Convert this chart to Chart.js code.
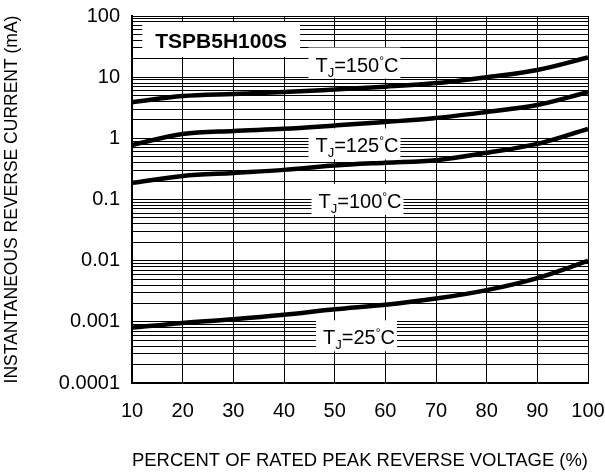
<!DOCTYPE html>
<html>
<head>
<meta charset="utf-8">
<script src="https://cdn.jsdelivr.net/npm/chart.js@4.4.0/dist/chart.umd.min.js"></script>
<style>
html, body { margin: 0; padding: 0; background: #fff; }
</style>
</head>
<body>
<canvas id="chart" width="605" height="473"></canvas>
<script>
// percent of rated peak reverse voltage
const voltage = [10, 20, 30, 40, 50, 60, 70, 80, 90, 100];
// reverse current (mA) for each junction temperature
const tj150 = [3.9, 4.9, 5.3, 5.7, 6.3, 7.0, 8.0, 10, 13.1, 21];
const tj125 = [0.78, 1.18, 1.32, 1.43, 1.62, 1.85, 2.15, 2.7, 3.5, 5.7];
const tj100 = [0.187, 0.243, 0.272, 0.305, 0.36, 0.40, 0.44, 0.58, 0.81, 1.43];
const tj25 = [0.0008, 0.00096, 0.0011, 0.0013, 0.0016, 0.0019, 0.0024, 0.0033, 0.0052, 0.0099];

const yTickLabels = ['0.0001', '0.001', '0.01', '0.1', '1', '10', '100'];
const partName = 'TSPB5H100S';
// temperature labels: text and where they sit (data units)
const tempLabels = [
    { temp: '150', x: 54.4, y: 16.1 },
    { temp: '125', x: 54.4, y: 0.766 },
    { temp: '100', x: 55.0, y: 0.0948 },
    { temp: '25', x: 54.8, y: 0.000558 }
];
const partLabelPos = { x: 27.6, y: 40.5 };

const FONT = 'Arial, "Liberation Sans", sans-serif';

const line = (data) => ({
    data: data,
    borderColor: '#000',
    borderWidth: 4.5,
    pointRadius: 0,
    fill: false,
    cubicInterpolationMode: 'monotone'
});

const noPad = (s) => {
    s.paddingTop = 0; s.paddingBottom = 0;
    s.paddingLeft = 0; s.paddingRight = 0;
};

// white boxes + text drawn over the grid
const labelPlugin = {
    id: 'labels',
    beforeDatasetsDraw(chart) {
        const ctx = chart.ctx;
        const xs = chart.scales.x, ys = chart.scales.y;
        ctx.save();

        // part number
        ctx.font = 'bold 21px ' + FONT;
        let w = ctx.measureText(partName).width;
        let cx = xs.getPixelForValue(partLabelPos.x);
        let cy = ys.getPixelForValue(partLabelPos.y);
        ctx.fillStyle = '#fff';
        ctx.fillRect(cx - w / 2 - 13, cy - 18, w + 26, 35);
        ctx.fillStyle = '#000';
        ctx.textBaseline = 'alphabetic';
        ctx.fillText(partName, cx - w / 2, cy + 7.5);

        tempLabels.forEach(l => {
            const parts = [
                { t: 'T', f: '20px', dy: 0 },
                { t: 'J', f: '13px', dy: 5 },
                { t: '=' + l.temp, f: '20px', dy: 0 },
                { t: '\u00B0', f: '12px', dy: -7 },
                { t: 'C', f: '20px', dy: 0 }
            ];
            let total = 0;
            parts.forEach(p => {
                ctx.font = p.f + ' ' + FONT;
                p.w = ctx.measureText(p.t).width;
                total += p.w;
            });
            const px = xs.getPixelForValue(l.x);
            const py = ys.getPixelForValue(l.y);
            let x0 = px - total / 2;
            ctx.fillStyle = '#fff';
            ctx.fillRect(x0 - 7, py - 17, total + 9, 31);
            ctx.fillStyle = '#000';
            parts.forEach(p => {
                ctx.font = p.f + ' ' + FONT;
                ctx.fillText(p.t, x0, py + 7 + p.dy);
                x0 += p.w;
            });
        });
        ctx.restore();
    }
};

const config = {
    type: 'line',
    data: {
        labels: voltage,
        datasets: [line(tj150), line(tj125), line(tj100), line(tj25)]
    },
    options: {
        responsive: false,
        animation: false,
        layout: { padding: { top: 16, right: 17, left: 0, bottom: 0 } },
        plugins: {
            legend: { display: false },
            tooltip: { enabled: false }
        },
        scales: {
            x: {
                type: 'linear',
                min: 10,
                max: 100,
                afterFit: (s) => { s.height = 90; noPad(s); },
                ticks: {
                    stepSize: 10,
                    padding: 16,
                    color: '#000',
                    font: { family: FONT, size: 20 }
                },
                grid: { color: '#000', lineWidth: 1, drawTicks: false },
                border: { color: '#000', width: 2 },
                title: {
                    display: true,
                    text: 'PERCENT OF RATED PEAK REVERSE VOLTAGE (%)',
                    color: '#000',
                    font: { family: FONT, size: 19 },
                    padding: { top: 0, bottom: 1 }
                }
            },
            y: {
                type: 'logarithmic',
                min: 0.0001,
                max: 100,
                afterFit: (s) => { s.width = 132; noPad(s); },
                afterBuildTicks: (s) => {
                    const t = [];
                    for (let e = -4; e <= 2; e++) {
                        for (let m = 1; m <= 9; m++) {
                            if (e === 2 && m > 1) break;
                            t.push({ value: m * Math.pow(10, e) });
                        }
                    }
                    s.ticks = t;
                },
                ticks: {
                    autoSkip: false,
                    padding: 12,
                    color: '#000',
                    font: { family: FONT, size: 20 },
                    callback: (v) => {
                        const e = Math.round(Math.log10(v));
                        if (Math.abs(v - Math.pow(10, e)) / v < 1e-6) return yTickLabels[e + 4];
                        return '';
                    }
                },
                grid: { color: '#000', lineWidth: 1, drawTicks: false },
                border: { color: '#000', width: 2 },
                title: {
                    display: true,
                    text: 'INSTANTANEOUS REVERSE CURRENT (mA)',
                    color: '#000',
                    font: { family: FONT, size: 17.5 },
                    padding: { top: 2, bottom: 0 }
                }
            }
        }
    },
    plugins: [labelPlugin]
};

new Chart(document.getElementById('chart'), config);
</script>
</body>
</html>
